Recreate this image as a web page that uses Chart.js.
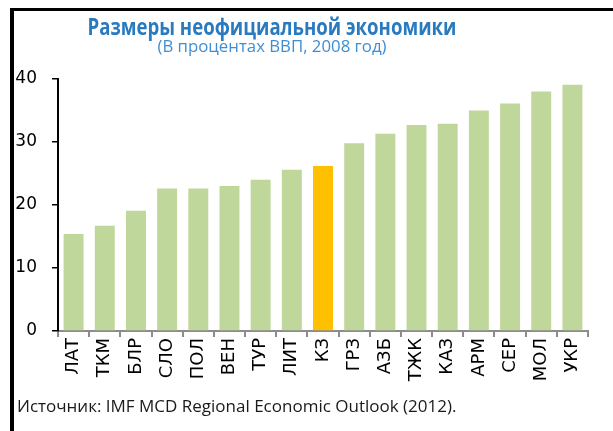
<!DOCTYPE html>
<html lang="ru">
  <head>
    <meta charset="utf-8">
    <script src="https://cdn.jsdelivr.net/npm/chart.js@4.4.1/dist/chart.umd.min.js"></script>
    <style>
      html, body { margin: 0; padding: 0; background: #fff; }
      #wrap { position: relative; width: 613px; height: 431px; overflow: hidden; }
      #frame { position: absolute; left: 10px; top: 8px; width: 610px; height: 430px;
               border-left: 4px solid #000; border-top: 3px solid #000; }
      .txt { position: absolute; white-space: nowrap; line-height: 1; font-family: 'Open Sans', sans-serif; }
      #title { left: 0; width: 544px; top: 19px; text-align: center; font-size: 18.6px; font-weight: 700;
               color: #2a7ac0; transform: scaleY(1.2); transform-origin: 50% 89%; }
      #subtitle { left: 0; width: 544px; top: 38px; text-align: center; font-size: 16.8px;
                  color: #3f8ed4; transform: scaleY(0.95); transform-origin: 50% 89%; }
      #source { left: 17px; top: 397px; font-size: 17px; color: #1a1a1a; }
      canvas { position: absolute; left: 0; top: 0; }
    </style>
  </head>
  <body>
    <div id="wrap">
      <canvas id="chart" width="613" height="431"></canvas>
      <div id="frame"></div>
      <div id="title" class="txt">Размеры неофициальной экономики</div>
      <div id="subtitle" class="txt">(В процентах ВВП, 2008 год)</div>
      <div id="source" class="txt">Источник: IMF MCD Regional Economic Outlook (2012).</div>
    </div>

    <script>
      // data
      var countries = ['ЛАТ', 'ТКМ', 'БЛР', 'СЛО', 'ПОЛ', 'ВЕН', 'ТУР', 'ЛИТ', 'КЗ',
                       'ГРЗ', 'АЗБ', 'ТЖК', 'КАЗ', 'АРМ', 'СЕР', 'МОЛ', 'УКР'];
      var shadowShare = [15.4, 16.7, 19.1, 22.6, 22.6, 23.0, 24.0, 25.6, 26.2,
                         29.8, 31.3, 32.7, 32.9, 35.0, 36.1, 38.0, 39.1];
      var yTicks = [0, 10, 20, 30, 40];
      var highlight = 'КЗ';

      var green = '#c0d79b';
      var gold = '#ffc000';
      var colors = countries.map(function (c) { return c === highlight ? gold : green; });

      var ctx = document.getElementById('chart').getContext('2d');
      var chart = new Chart(ctx, {
        type: 'bar',
        data: {
          labels: countries,
          datasets: [{
            data: shadowShare,
            backgroundColor: colors,
            borderWidth: 0,
            barPercentage: 1,
            categoryPercentage: 0.64
          }]
        },
        options: {
          responsive: false,
          animation: false,
          layout: { padding: { left: 0, top: 79, right: 25, bottom: 40 } },
          plugins: {
            legend: { display: false },
            tooltip: { enabled: false }
          },
          scales: {
            x: {
              grid: { drawOnChartArea: false, drawTicks: true, tickLength: 6, color: '#8c8c8c', lineWidth: 2, offset: true },
              border: { display: true, color: '#8c8c8c', width: 2 },
              ticks: {
                autoSkip: false, minRotation: 90, maxRotation: 90, padding: 1,
                color: '#000', font: { family: 'DejaVu Sans', size: 18 }
              },
              afterFit: function (scale) { scale.height = 60; }
            },
            y: {
              min: yTicks[0],
              max: yTicks[yTicks.length - 1],
              afterBuildTicks: function (scale) {
                scale.ticks = yTicks.map(function (v) { return { value: v }; });
              },
              grid: { drawOnChartArea: false, drawTicks: true, tickLength: 6, color: '#000', lineWidth: 1.5 },
              border: { display: true, color: '#000', width: 2 },
              ticks: { padding: 15, color: '#000', font: { family: 'DejaVu Sans', size: 17 } },
              afterFit: function (scale) { scale.width = 58; }
            }
          }
        }
      });
    </script>
  </body>
</html>
